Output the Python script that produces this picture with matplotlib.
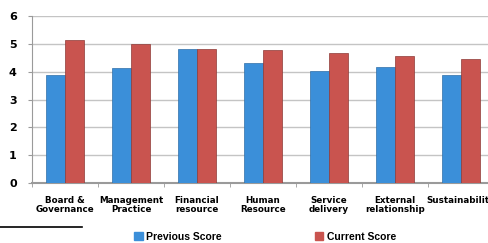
import numpy as np
import matplotlib.pyplot as plt
from matplotlib.lines import Line2D

categories = ['Board &\nGovernance', 'Management\nPractice', 'Financial\nresource',
              'Human\nResource', 'Service\ndelivery', 'External\nrelationship', 'Sustainability']
previous = [3.88, 4.12, 4.82, 4.30, 4.03, 4.18, 3.88]
current = [5.12, 5.00, 4.82, 4.78, 4.67, 4.57, 4.45]

blue = '#3b8fd9'
red = '#c9544f'

fig = plt.figure(figsize=(4.89, 2.43), dpi=100)
ax = fig.add_axes([32/489, 60/243, 462/489, 167/243])

x = np.arange(len(categories))
w = 0.29
ax.bar(x - w/2, previous, w, color=blue, edgecolor='#2f6fa8', linewidth=0.5, zorder=3)
ax.bar(x + w/2, current, w, color=red, edgecolor='#8e3a36', linewidth=0.5, zorder=3)

ax.set_xlim(-0.5, len(categories) - 0.5)
ax.set_ylim(0, 6)
ax.set_yticks(range(7))
ax.yaxis.grid(True, color='#c4c4c4', linewidth=1.0, zorder=0)
ax.set_axisbelow(True)
for s in ['top', 'right']:
    ax.spines[s].set_visible(False)
ax.spines['left'].set_color('#9a9a9a')
ax.spines['bottom'].set_color('#9a9a9a')
ax.spines['bottom'].set_linewidth(1.5)

ax.set_xticks(np.arange(len(categories) + 1) - 0.5, minor=True)
ax.set_xticks(x)
ax.set_xticklabels(categories, fontsize=6.3, family=['Liberation Sans Narrow', 'DejaVu Sans'],
                   fontweight='bold', linespacing=1.0, va='top')
ax.tick_params(axis='x', which='major', length=0, pad=9)
ax.tick_params(axis='x', which='minor', length=3, color='#9a9a9a')
ax.tick_params(axis='y', labelsize=8, length=3, color='#9a9a9a', pad=8)
for lbl in ax.get_yticklabels():
    lbl.set_fontweight('bold')

handles = [plt.Rectangle((0, 0), 1, 1, color=blue), plt.Rectangle((0, 0), 1, 1, color=red)]
fig.legend(handles, ['Previous Score', 'Current Score'], loc='center',
           bbox_to_anchor=(265/489, 1 - 237/243), ncol=2, frameon=False,
           handlelength=0.8, handleheight=0.8, handletextpad=0.3, columnspacing=9,
           prop={'family': ['Liberation Sans', 'DejaVu Sans'], 'size': 7.5, 'weight': 'bold'})

fig.add_artist(Line2D([0, 82/489], [1 - 227/243, 1 - 227/243], color='black', linewidth=1.2))

fig.savefig('out.png', dpi=100)
